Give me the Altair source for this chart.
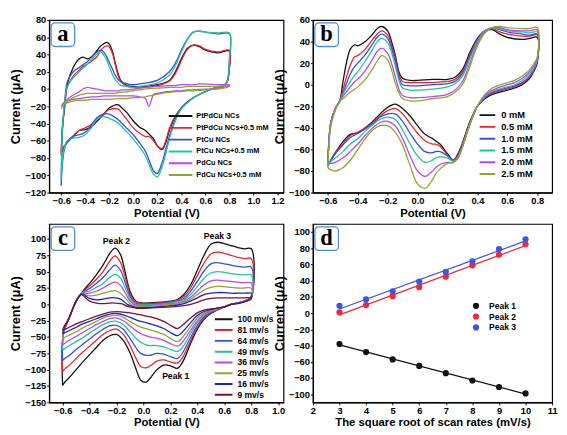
import altair as alt
import pandas as pd

# ---------------- Panel a ----------------
A_NAMES = ["PtPdCu NCs", "PtPdCu NCs+0.5 mM", "PtCu NCs", "PtCu NCs+0.5 mM",
           "PdCu NCs", "PdCu NCs+0.5 mM"]
A_FWD_V = [-0.6, -0.59, -0.57, -0.55, -0.5, -0.45, -0.42, -0.38, -0.35, -0.3, -0.27,
           -0.24, -0.22, -0.2, -0.17, -0.15, -0.12, -0.1, -0.05, 0.0, 0.1, 0.2, 0.3,
           0.35, 0.4, 0.45, 0.5, 0.55, 0.6, 0.7, 0.8]
A_REV_V = [0.8, 0.78, 0.75, 0.7, 0.65, 0.6, 0.5, 0.45, 0.4, 0.35, 0.3, 0.27, 0.24,
           0.2, 0.17, 0.13, 0.1, 0.05, 0.0, -0.05, -0.1, -0.13, -0.2, -0.25, -0.3,
           -0.35, -0.4, -0.45, -0.5, -0.55, -0.58, -0.6]
A_PTPDCU_FWD = [-77, -45, -20, 5, 25, 35, 37, 35, 37, 45, 50, 53, 54, 52, 42, 30, 15, 9,
                4, 3, 3, 5, 10, 20, 35, 47, 51, 49, 45, 42, 44]
A_PTPDCU_REV = [25, 8, 4, 2, 0, -3, -10, -15, -22, -32, -48, -62, -70, -66, -58, -52,
                -48, -44, -37, -28, -21, -18, -22, -30, -37, -44, -47, -48, -55, -62,
                -68, -77]
A_PTPDCU05_FWD = [-73, -45, -18, 2, 15, 22, 26, 29, 32, 38, 45, 49, 50, 49, 40, 28, 13,
                  8, 3, 2, 2, 4, 9, 18, 33, 46, 51, 50, 46, 43, 45]
A_PTPDCU05_REV = [25, 8, 4, 2, 0, -3, -10, -15, -22, -31, -46, -60, -69, -66, -60, -55,
                  -55, -51, -45, -36, -27, -23, -24, -29, -35, -41, -45, -48, -54, -62,
                  -67, -73]
A_PTCU_FWD = [-112, -50, -15, 8, 20, 25, 28, 32, 37, 43, 45, 42, 37, 31, 22, 16, 10, 8,
              6, 5, 7, 10, 20, 30, 45, 58, 66, 67, 66, 64, 64]
A_PTCU_REV = [35, 8, 4, 2, 0, -3, -10, -15, -22, -35, -55, -70, -85, -98, -95, -82, -72,
              -62, -53, -46, -39, -35, -29, -29, -33, -42, -50, -53, -55, -60, -75, -112]
A_PTCU05_FWD = [-105, -48, -12, 3, 13, 20, 24, 29, 34, 41, 43, 38, 33, 26, 16, 11, 6, 4,
                3, 2, 4, 7, 16, 27, 43, 57, 66, 67, 66, 65, 65]
A_PTCU05_REV = [35, 8, 4, 2, 0, -3, -10, -16, -23, -37, -58, -75, -90, -102, -99, -87,
                -77, -67, -58, -50, -43, -39, -34, -32, -35, -45, -53, -56, -57, -60,
                -72, -105]
A_PDCU_FWD = [-20, -18, -15, -12, -7, -3, 0, 2, 1, 0, -1, -2, -2, -2, -2, -2, -2, -1, -1,
              0, 2, 3, 4, 4, 5, 5, 5, 6, 6, 5, 5]
A_PDCU_REV = [4, 3, 2, 1, 0, 0, -1, -1, -2, -2, -3, -3, -4, -5, -6, -20, -11, -9, -8, -8,
              -8, -8, -8, -8, -9, -9, -10, -11, -12, -14, -16, -20]
A_PDCU05_FWD = [-23, -20, -17, -14, -10, -7, -6, -5, -5, -5, -5, -5, -5, -5, -5, -5, -4,
                -4, -3, -2, 0, 1, 2, 2, 2, 3, 3, 3, 3, 3, 4]
A_PDCU05_REV = [3, 2, 1, 0, 0, -1, -2, -2, -3, -3, -4, -4, -5, -6, -7, -8, -9, -10, -10,
                -11, -11, -11, -12, -12, -12, -12, -13, -13, -14, -16, -18, -23]

# ---------------- Panel b ----------------
B_NAMES = ["0 mM", "0.5 mM", "1.0 mM", "1.5 mM", "2.0 mM", "2.5 mM"]
B_FWD_V = [-0.6, -0.58, -0.55, -0.52, -0.5, -0.45, -0.42, -0.4, -0.35, -0.3, -0.27, -0.24,
           -0.2, -0.17, -0.15, -0.12, -0.1, -0.05, 0.0, 0.1, 0.2, 0.25, 0.3, 0.35, 0.4,
           0.45, 0.5, 0.55, 0.6, 0.7, 0.75, 0.8]
B_REV_V = [0.8, 0.78, 0.75, 0.7, 0.65, 0.6, 0.5, 0.45, 0.4, 0.35, 0.3, 0.27, 0.24, 0.2,
           0.15, 0.12, 0.1, 0.05, 0.0, -0.05, -0.1, -0.15, -0.2, -0.25, -0.3, -0.35,
           -0.4, -0.45, -0.5, -0.55, -0.58, -0.6]
B_00_FWD = [-75, -35, -22, -15, 2, 33, 37, 36, 40, 47, 52, 54, 50, 38, 28, 10, 6, 4, 4, 5,
            5, 7, 14, 30, 43, 50, 51, 47, 44, 42, 43, 44]
B_00_REV = [20, 13, 6, 0, -3, -5, -9, -13, -20, -34, -54, -64, -70, -64, -55, -52, -50,
            -46, -38, -29, -22, -18, -21, -27, -34, -40, -45, -46, -53, -63, -70, -75]
B_05_FWD = [-74, -35, -22, -15, -5, 18, 26, 27, 33, 42, 47, 50, 46, 35, 25, 8, 3, 2, 2, 2,
            3, 5, 12, 28, 42, 50, 52, 49, 47, 45, 45, 46]
B_05_REV = [21, 14, 7, 1, -2, -4, -8, -12, -20, -35, -55, -65, -70, -65, -57, -55, -55,
            -52, -45, -36, -27, -22, -24, -29, -35, -40, -44, -47, -55, -63, -70, -74]
B_10_FWD = [-75, -35, -22, -15, -8, 10, 17, 20, 28, 38, 44, 47, 43, 32, 22, 5, 0, -1, -1,
            0, 1, 3, 10, 26, 41, 50, 53, 51, 49, 47, 46, 47]
B_10_REV = [22, 15, 8, 2, -1, -3, -7, -12, -20, -36, -56, -66, -70, -66, -62, -62, -63,
            -62, -55, -45, -34, -27, -27, -30, -36, -41, -45, -49, -56, -64, -70, -75]
B_15_FWD = [-74, -35, -22, -15, -9, 3, 9, 12, 22, 33, 40, 43, 39, 28, 18, 2, -3, -5, -5,
            -4, -2, 1, 8, 24, 40, 50, 53, 52, 50, 49, 48, 49]
B_15_REV = [23, 16, 10, 4, 0, -2, -6, -11, -20, -36, -57, -67, -71, -68, -67, -68, -70,
            -72, -66, -55, -42, -32, -30, -32, -37, -43, -50, -55, -62, -68, -71, -74]
B_20_FWD = [-73, -35, -22, -15, -11, -2, 3, 5, 13, 24, 31, 34, 29, 18, 8, -6, -10, -12,
            -12, -11, -9, -5, 3, 20, 38, 49, 53, 53, 51, 50, 50, 51]
B_20_REV = [24, 18, 12, 6, 2, 0, -5, -10, -20, -37, -58, -68, -72, -72, -74, -77, -80,
            -85, -80, -66, -50, -38, -34, -35, -40, -47, -55, -62, -68, -72, -73, -73]
B_25_FWD = [-77, -38, -24, -15, -13, -7, -4, -2, 5, 15, 22, 27, 23, 12, 2, -9, -13, -15,
            -15, -13, -11, -7, 0, 17, 36, 48, 53, 54, 53, 52, 52, 53]
B_25_REV = [25, 20, 14, 8, 4, 2, -3, -9, -20, -37, -58, -68, -72, -73, -78, -83, -88,
            -96, -92, -75, -56, -44, -38, -38, -42, -50, -60, -70, -77, -80, -79, -77]

# ---------------- Panel c ----------------
C_NAMES = ["100 mv/s", "81 mv/s", "64 mv/s", "49 mv/s", "36 mv/s", "25 mv/s",
           "16 mv/s", "9 mv/s"]
C_FWD_V = [-0.6, -0.595, -0.55, -0.5, -0.46, -0.43, -0.4, -0.35, -0.3, -0.25, -0.21,
           -0.17, -0.15, -0.12, -0.1, -0.07, -0.05, 0.0, 0.1, 0.2, 0.25, 0.3, 0.35, 0.4,
           0.45, 0.5, 0.55, 0.6, 0.65, 0.7, 0.75, 0.8]
C_REV_V = [0.8, 0.75, 0.7, 0.65, 0.6, 0.5, 0.45, 0.4, 0.35, 0.3, 0.27, 0.25, 0.2, 0.15,
           0.1, 0.05, 0.02, -0.02, -0.05, -0.1, -0.15, -0.2, -0.25, -0.3, -0.35, -0.4,
           -0.45, -0.5, -0.55, -0.58, -0.6]
C_100_FWD = [-124, -45, -20, 5, 17, 25, 32, 45, 60, 78, 86, 76, 62, 35, 20, 8, 4, 2, 3, 5,
             7, 15, 30, 52, 75, 92, 95, 93, 90, 87, 85, 85]
C_100_REV = [12, 5, 2, 0, -4, -14, -23, -38, -60, -85, -95, -98, -94, -93, -100, -113,
             -119, -116, -102, -74, -55, -46, -48, -55, -66, -77, -88, -100, -112, -118,
             -124]
C_81_FWD = [-103, -45, -20, 5, 17, 23, 28, 38, 50, 66, 74, 64, 52, 30, 16, 6, 3, 1, 2, 4,
            6, 12, 25, 44, 63, 77, 80, 78, 75, 72, 70, 70]
C_81_REV = [12, 5, 2, 0, -4, -13, -21, -35, -56, -78, -87, -90, -88, -85, -87, -94, -97,
            -95, -85, -63, -46, -38, -40, -46, -55, -64, -73, -83, -93, -98, -103]
C_64_FWD = [-86, -45, -20, 5, 17, 21, 24, 32, 41, 53, 60, 52, 42, 24, 12, 4, 1, 0, 1, 3,
            5, 9, 20, 35, 51, 62, 64, 62, 60, 58, 57, 57]
C_64_REV = [11, 5, 2, 0, -4, -12, -19, -32, -51, -71, -80, -83, -80, -76, -75, -78, -78,
            -75, -68, -52, -38, -32, -33, -38, -45, -53, -61, -69, -78, -82, -86]
C_49_FWD = [-70, -45, -20, 5, 17, 19, 20, 26, 32, 41, 46, 40, 32, 18, 8, 2, 0, -1, 0, 2,
            4, 7, 15, 27, 40, 48, 50, 49, 47, 46, 45, 45]
C_49_REV = [10, 5, 2, 0, -4, -11, -17, -28, -45, -63, -70, -72, -69, -65, -63, -63, -62,
            -58, -53, -42, -31, -26, -27, -31, -37, -44, -51, -57, -63, -67, -70]
C_36_FWD = [-62, -45, -20, 5, 17, 17, 17, 20, 25, 31, 34, 29, 23, 12, 5, 0, -1, -2, -1, 1,
            2, 5, 11, 20, 30, 36, 37, 36, 35, 34, 33, 33]
C_36_REV = [10, 5, 2, 0, -4, -10, -15, -25, -40, -55, -62, -64, -60, -55, -52, -50, -48,
            -45, -41, -33, -25, -21, -22, -26, -31, -37, -43, -49, -55, -59, -62]
C_25_FWD = [-53, -43, -20, 5, 17, 15, 13, 14, 17, 20, 21, 17, 13, 6, 1, -2, -3, -3, -2, 0,
            1, 3, 8, 15, 22, 26, 28, 27, 26, 25, 25, 25]
C_25_REV = [9, 4, 2, 0, -4, -9, -13, -21, -34, -48, -55, -57, -52, -46, -42, -39, -37,
            -35, -32, -26, -20, -17, -18, -21, -26, -31, -36, -42, -47, -50, -53]
C_16_FWD = [-45, -40, -20, 5, 16, 13, 9, 7, 8, 10, 10, 8, 5, 0, -2, -4, -5, -5, -4, -2,
            -1, 1, 5, 10, 15, 17, 18, 18, 17, 17, 17, 17]
C_16_REV = [9, 4, 2, 0, -4, -8, -11, -17, -28, -40, -46, -48, -43, -37, -33, -30, -28,
            -26, -24, -20, -16, -14, -15, -18, -22, -26, -30, -35, -40, -43, -45]
C_9_FWD = [-40, -36, -20, 4, 15, 10, 5, 2, 1, 2, 2, 1, 0, -3, -4, -5, -6, -6, -5, -4, -3,
           -2, 0, 3, 7, 9, 10, 10, 10, 10, 10, 10]
C_9_REV = [8, 4, 1, 0, -4, -7, -9, -13, -21, -30, -35, -37, -32, -26, -22, -19, -18, -16,
           -15, -13, -12, -11, -12, -15, -18, -22, -26, -30, -35, -38, -40]
C_NOTE_TEXT = ["Peak 2", "Peak 3", "Peak 1"]
C_NOTE_V = [-0.2, 0.55, 0.24]
C_NOTE_I = [97, 105, -109]

# ---------------- Panel d ----------------
D_NAMES = ["Peak 1", "Peak 2", "Peak 3"]
D_ROOT_RATE = [3, 4, 5, 6, 7, 8, 9, 10]
D_PEAK1 = [-38, -48, -57, -65, -74, -83, -91, -99]
D_PEAK2 = [1, 10, 21, 32, 45, 59, 72, 85]
D_PEAK3 = [9, 17, 27, 39, 51, 64, 79, 91]

SIX = ["#111111", "#f0202a", "#2f4fe6", "#22c49a", "#c044f0", "#8aa82a"]
EIGHT = SIX + ["#1f1fd0", "#7a1030"]
D_COLORS = ["#111111", "#f0283a", "#3a56e8"]

FONT = "Liberation Sans"
W1, W2 = 239, 244
H1, H2 = 176, 182


def loop_frame(names, fwd_v, rev_v, fwds, revs):
    rows = []
    for name, f, r in zip(names, fwds, revs):
        assert len(f) == len(fwd_v) and len(r) == len(rev_v), name
        k = 0
        for v, i in list(zip(fwd_v, f)) + list(zip(rev_v, r)):
            rows.append({"s": name, "V": v, "I": i, "o": k})
            k += 1
    return pd.DataFrame(rows)


def badge(letter):
    src = pd.DataFrame({"t": [letter]})
    box = alt.Chart(src).mark_rect(
        fill="white", stroke="#4a90d9", strokeWidth=1.3, cornerRadius=4
    ).encode(x=alt.value(2), x2=alt.value(26), y=alt.value(3), y2=alt.value(27))
    txt = alt.Chart(src).mark_text(
        font="Liberation Serif", fontWeight="bold", fontSize=23, color="black",
        baseline="middle", align="center"
    ).encode(x=alt.value(14), y=alt.value(14), text="t:N")
    return box + txt


def xenc(field, dom, vals, title, fmt):
    return alt.X(field, scale=alt.Scale(domain=dom, nice=False, zero=False),
                 axis=alt.Axis(values=vals, format=fmt, title=title))


def yenc(field, dom, vals):
    return alt.Y(field, scale=alt.Scale(domain=dom, nice=False, zero=False),
                 axis=alt.Axis(values=vals, format="d", title="Current (μA)"))


def cv_panel(df, names, colors, xdom, xvals, ydom, yvals, letter, leg, w, h, extra=None):
    X = xenc("V:Q", xdom, xvals, "Potential (V)", ".1f")
    Y = yenc("I:Q", ydom, yvals)
    lines = alt.Chart(df).mark_line(strokeWidth=1.3, interpolate="catmull-rom").encode(
        x=X, y=Y,
        color=alt.Color("s:N", scale=alt.Scale(domain=names, range=colors),
                        legend=alt.Legend(**leg)),
        order=alt.Order("o:Q"),
    )
    layers = [lines]
    if extra is not None:
        layers.append(extra(X, Y))
    layers.append(badge(letter))
    return alt.layer(*layers).properties(width=w, height=h)


def legend_opts(x, y, size, font, pitch, offset):
    return dict(orient="none", legendX=x, legendY=y, title=None, symbolType="stroke",
                symbolStrokeWidth=2, symbolSize=size, labelFontSize=font,
                labelFont=FONT, labelFontWeight="bold", labelColor="black",
                clipHeight=pitch, rowPadding=0, labelOffset=offset, padding=0,
                labelLimit=200)


df_a = loop_frame(A_NAMES, A_FWD_V, A_REV_V,
                  [A_PTPDCU_FWD, A_PTPDCU05_FWD, A_PTCU_FWD, A_PTCU05_FWD, A_PDCU_FWD,
                   A_PDCU05_FWD],
                  [A_PTPDCU_REV, A_PTPDCU05_REV, A_PTCU_REV, A_PTCU05_REV, A_PDCU_REV,
                   A_PDCU05_REV])
df_b = loop_frame(B_NAMES, B_FWD_V, B_REV_V,
                  [B_00_FWD, B_05_FWD, B_10_FWD, B_15_FWD, B_20_FWD, B_25_FWD],
                  [B_00_REV, B_05_REV, B_10_REV, B_15_REV, B_20_REV, B_25_REV])
df_c = loop_frame(C_NAMES, C_FWD_V, C_REV_V,
                  [C_100_FWD, C_81_FWD, C_64_FWD, C_49_FWD, C_36_FWD, C_25_FWD, C_16_FWD,
                   C_9_FWD],
                  [C_100_REV, C_81_REV, C_64_REV, C_49_REV, C_36_REV, C_25_REV, C_16_REV,
                   C_9_REV])

pa = cv_panel(df_a, A_NAMES, SIX, [-0.7, 1.25], [round(-0.6 + 0.2 * k, 1) for k in range(10)],
              [-120, 80], list(range(-120, 81, 20)), "a",
              legend_opts(121, 92, 576, 7.5, 12, 3), W1, H1)

pb = cv_panel(df_b, B_NAMES, SIX, [-0.7, 0.9], [round(-0.6 + 0.2 * k, 1) for k in range(8)],
              [-100, 60], list(range(-100, 61, 20)), "b",
              legend_opts(169, 91, 256, 9.5, 12, 5), W2, H1)

notes = pd.DataFrame({"t": C_NOTE_TEXT, "V": C_NOTE_V, "I": C_NOTE_I})


def c_notes(X, Y):
    return alt.Chart(notes).mark_text(font=FONT, fontWeight="bold", fontSize=8.8,
                                      color="black").encode(x=X, y=Y, text="t:N")


pc = cv_panel(df_c, C_NAMES, EIGHT, [-0.7, 1.04], [round(-0.6 + 0.2 * k, 1) for k in range(9)],
              [-150, 123], list(range(-150, 101, 25)), "c",
              legend_opts(168, 92, 324, 8.7, 10.5, 4), W1, H2, extra=c_notes)

d_rows = []
for name, vals in zip(D_NAMES, [D_PEAK1, D_PEAK2, D_PEAK3]):
    for r, c in zip(D_ROOT_RATE, vals):
        d_rows.append({"p": name, "r": r, "c": c})
df_d = pd.DataFrame(d_rows)

DX = xenc("r:Q", [2, 11], list(range(2, 12)), "The square root of scan rates (mV/s)", "d")
DY = yenc("c:Q", [-110, 110], list(range(-100, 101, 20)))
fits = []
for name, col in zip(D_NAMES, D_COLORS):
    fits.append(
        alt.Chart(df_d).transform_filter(alt.datum.p == name)
        .transform_regression("r", "c")
        .mark_line(strokeWidth=1.3, color=col)
        .encode(x=DX, y=DY)
    )
pts = alt.Chart(df_d).mark_circle(size=40, opacity=1).encode(
    x=DX, y=DY,
    color=alt.Color("p:N", scale=alt.Scale(domain=D_NAMES, range=D_COLORS),
                    legend=alt.Legend(orient="none", legendX=162, legendY=78, title=None,
                                      symbolType="circle", symbolSize=40,
                                      labelFontSize=8.7, labelFont=FONT,
                                      labelFontWeight="bold", labelColor="black",
                                      clipHeight=11, rowPadding=0, labelOffset=9,
                                      padding=0, symbolStrokeWidth=0)))
pd_ = alt.layer(*fits, pts, badge("d")).properties(width=W2, height=H2)

chart = alt.concat(
    pa, pb, pc, pd_, columns=2, spacing={"row": 32, "column": 30}, bounds="flush"
).resolve_scale(
    x="independent", y="independent", color="independent"
).resolve_legend(
    color="independent"
).properties(
    padding={"left": 1, "top": 2, "right": 1, "bottom": 1}
).configure_view(
    stroke="black", strokeWidth=1.2
).configure_axis(
    labelFont=FONT, labelFontSize=9.5, labelFontWeight="bold", labelColor="black",
    titleFont=FONT, titleFontWeight="bold", titleColor="black",
    domainColor="black", domainWidth=1.2, tickColor="black", tickSize=2.5,
    grid=False, labelPadding=1, titlePadding=2, labelFlush=False, labelOverlap=False
).configure_axisX(titleFontSize=11.5).configure_axisY(titleFontSize=13)

chart.save("out.html", embed_options={"renderer": "svg", "actions": False})
